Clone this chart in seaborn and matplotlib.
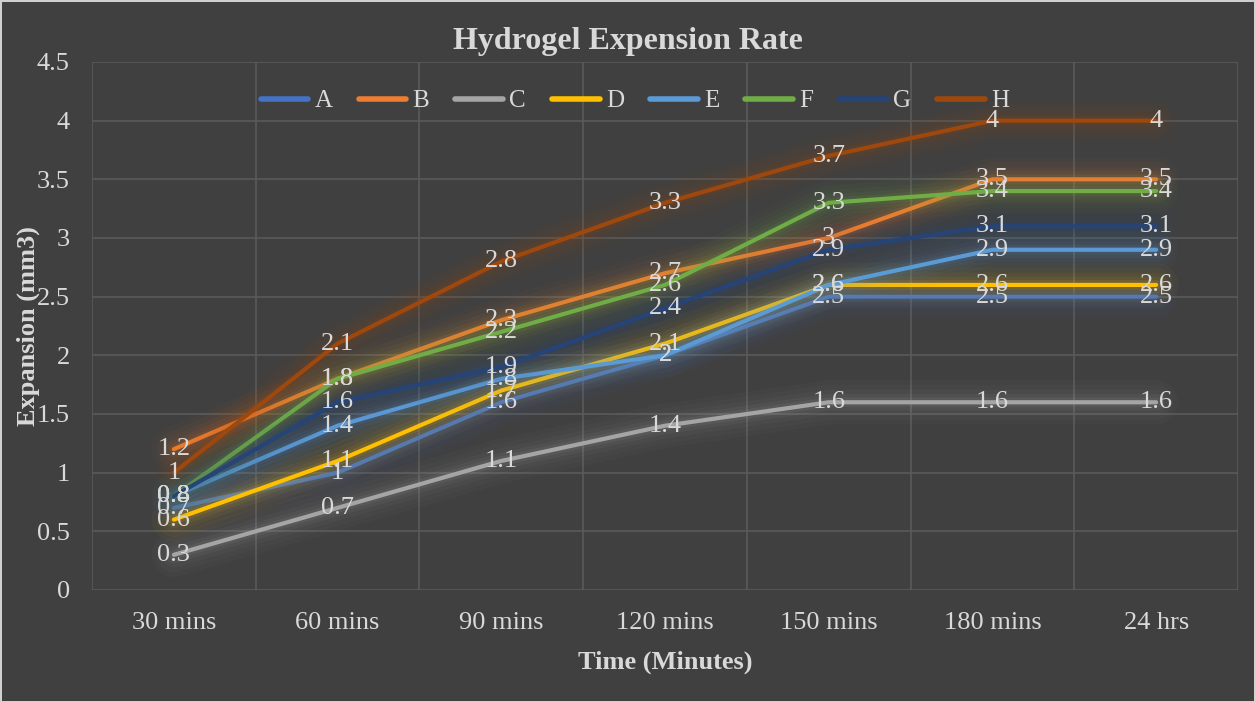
import matplotlib
matplotlib.use("Agg")
import matplotlib.pyplot as plt
import matplotlib.patheffects as pe
import seaborn as sns
import pandas as pd

# Expansion of each hydrogel sample over time (mm3)
times = ["30 mins", "60 mins", "90 mins", "120 mins", "150 mins", "180 mins", "24 hrs"]
A = [0.7, 1.0, 1.6, 2.0, 2.5, 2.5, 2.5]
B = [1.2, 1.8, 2.3, 2.7, 3.0, 3.5, 3.5]
C = [0.3, 0.7, 1.1, 1.4, 1.6, 1.6, 1.6]
D = [0.6, 1.1, 1.7, 2.1, 2.6, 2.6, 2.6]
E = [0.8, 1.4, 1.8, 2.0, 2.6, 2.9, 2.9]
F = [0.8, 1.8, 2.2, 2.6, 3.3, 3.4, 3.4]
G = [0.8, 1.6, 1.9, 2.4, 2.9, 3.1, 3.1]
H = [1.0, 2.1, 2.8, 3.3, 3.7, 4.0, 4.0]

series = {"A": A, "B": B, "C": C, "D": D, "E": E, "F": F, "G": G, "H": H}
palette = {"A": "#4472C4", "B": "#ED7D31", "C": "#A5A5A5", "D": "#FFC000",
           "E": "#5B9BD5", "F": "#70AD47", "G": "#264478", "H": "#9E480E"}

rows = []
for name, vals in series.items():
    for t, v in zip(times, vals):
        rows.append({"Time": t, "Expansion": v, "Sample": name})
df = pd.DataFrame(rows)

BG = "#404040"
GRID = "#5A5A5A"
TXT = "#D9D9D9"

sns.set_theme(style="dark")
plt.rcParams["font.family"] = ["Liberation Serif", "DejaVu Serif"]

fig = plt.figure(figsize=(12.55, 7.02), dpi=100, facecolor=BG)
fig.patch.set_edgecolor("#D0D0D0")
fig.patch.set_linewidth(2)
ax = fig.add_axes([92 / 1255, 1 - 590 / 702, (1238 - 92) / 1255, (590 - 62) / 702])
ax.set_facecolor(BG)

sns.lineplot(data=df, x="Time", y="Expansion", hue="Sample", palette=palette,
             linewidth=3, sort=False, ax=ax, legend=False)

# Soft glow around each series
for line in ax.get_lines():
    col = line.get_color()
    effects = [pe.Stroke(linewidth=w, foreground=col, alpha=a)
               for w, a in [(32, 0.03), (25, 0.04), (18, 0.05), (12, 0.07), (7, 0.1)]]
    line.set_path_effects(effects + [pe.Normal()])
    line.set_solid_capstyle("round")
    line.set_solid_joinstyle("round")

# Value labels centred on each point
for name, vals in series.items():
    for i, v in enumerate(vals):
        ax.text(i, v, f"{v:g}", ha="center", va="center", color=TXT,
                fontsize=19, zorder=5)

ax.set_xlim(-0.5, len(times) - 0.5)
ax.set_ylim(0, 4.5)
ax.set_yticks([i * 0.5 for i in range(10)])
ax.set_yticklabels([f"{i * 0.5:g}" for i in range(10)])
ax.set_xticks(range(len(times)))
ax.set_xticklabels(times)
ax.grid(False)
for y in [i * 0.5 for i in range(10)]:
    ax.axhline(y, color=GRID, linewidth=1.2, zorder=0)
for x in [i + 0.5 for i in range(-1, len(times))]:
    ax.axvline(x, color=GRID, linewidth=1.2, zorder=0)
for s in ax.spines.values():
    s.set_visible(False)

ax.tick_params(axis="both", which="both", length=0, colors=TXT, labelsize=19)
ax.tick_params(axis="y", pad=16)
ax.tick_params(axis="x", pad=16)

ax.set_xlabel("Time (Minutes)", color=TXT, fontsize=19, fontweight="bold")
ax.xaxis.set_label_coords(0.5, -(651 - 590) / 528)
ax.set_ylabel("Expansion (mm3)", color=TXT, fontsize=19, fontweight="bold")
ax.yaxis.set_label_coords((40 - 92) / 1146, 0.5)
fig.text(0.5, 1 - 42 / 702, "Hydrogel Expension Rate", ha="center", va="center",
         color=TXT, fontsize=23, fontweight="bold")

handles = [plt.Line2D([0], [0], color=palette[n], linewidth=4) for n in series]
fig.legend(handles, list(series.keys()), loc="center", ncol=8, frameon=False,
           bbox_to_anchor=(0.506, 1 - 101 / 702), fontsize=18, labelcolor=TXT,
           handlelength=1.9, columnspacing=1.05, handletextpad=0.25)

fig.savefig("out.png", dpi=100, facecolor=BG, edgecolor=fig.patch.get_edgecolor())
